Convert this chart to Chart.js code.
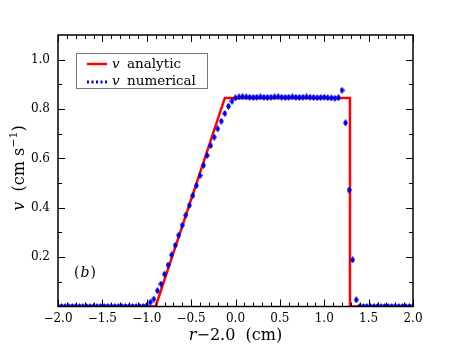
<!DOCTYPE html>
<html><head><meta charset="utf-8">
<script src="https://cdn.jsdelivr.net/npm/chart.js@4"></script>
<style>html,body{margin:0;padding:0;background:#fff}</style>
</head><body>
<canvas id="c" width="460" height="345" style="width:460px;height:345px"></canvas>
<script>
// ---- data ----
const analyticX = [-2.0, -0.9, -0.12, 1.29, 1.29, 2.0];
const analyticY = [0, 0, 0.845, 0.845, 0, 0];

const numericalX = [
 -2.00,-1.96,-1.92,-1.88,-1.84,-1.80,-1.76,-1.72,-1.68,-1.64,
 -1.60,-1.56,-1.52,-1.48,-1.44,-1.40,-1.36,-1.32,-1.28,-1.24,
 -1.20,-1.16,-1.12,-1.08,-1.04,-1.00,-0.96,-0.92,-0.88,-0.84,
 -0.80,-0.76,-0.72,-0.68,-0.64,-0.60,-0.56,-0.52,-0.48,-0.44,
 -0.40,-0.36,-0.32,-0.28,-0.24,-0.20,-0.16,-0.12,-0.08,-0.04,
  0.00, 0.04, 0.08, 0.12, 0.16, 0.20, 0.24, 0.28, 0.32, 0.36,
  0.40, 0.44, 0.48, 0.52, 0.56, 0.60, 0.64, 0.68, 0.72, 0.76,
  0.80, 0.84, 0.88, 0.92, 0.96, 1.00, 1.04, 1.08, 1.12, 1.16,
  1.20, 1.24, 1.28, 1.32, 1.36, 1.40, 1.44, 1.48, 1.52, 1.56,
  1.60, 1.64, 1.68, 1.72, 1.76, 1.80, 1.84, 1.88, 1.92, 1.96,
  2.00];
const numericalY = [
 0,0,0,0,0,0,0,0,0,0,
 0,0,0,0,0,0,0,0,0,0,
 0,0,0,0,0,0.004,0.017,0.030,0.064,0.091,
 0.131,0.168,0.209,0.248,0.289,0.329,0.370,0.410,0.450,0.490,
 0.530,0.572,0.612,0.652,0.686,0.720,0.751,0.782,0.811,0.832,
 0.845,0.849,0.850,0.849,0.848,0.847,0.848,0.849,0.848,0.847,
 0.848,0.849,0.850,0.848,0.847,0.848,0.849,0.848,0.847,0.848,
 0.849,0.848,0.847,0.846,0.847,0.848,0.846,0.845,0.844,0.846,
 0.876,0.744,0.472,0.189,0.027,0,0,0,0,0,
 0,0,0,0,0,0,0,0,0,0,
 0];

const xTickValues = [-2.0,-1.5,-1.0,-0.5,0.0,0.5,1.0,1.5,2.0];
const yTickValues = [0.2,0.4,0.6,0.8,1.0];

const seriesLabels = ['analytic','numerical'];
const panelLabel = 'b';

// ---- marker ----
const marker = document.createElement('canvas');
marker.width = 5; marker.height = 7;
(function(){
  const m = marker.getContext('2d');
  m.fillStyle = '#0000e8';
  m.beginPath(); m.moveTo(2.5,0); m.lineTo(5,3.5); m.lineTo(2.5,7); m.lineTo(0,3.5); m.closePath(); m.fill();
  m.fillRect(1.5,1,2,5);
})();

const SERIF = '"DejaVu Serif", "Liberation Serif", serif';
function fmt(v){ return (v < 0 ? '\u2212' : '') + Math.abs(v).toFixed(1); }

const decor = {
  id: 'decor',
  afterDatasetsDraw(chart){
    const {ctx, chartArea:a, scales:{x, y}} = chart;
    ctx.save();
    // ticks inward
    ctx.strokeStyle = '#000'; ctx.lineWidth = 1;
    ctx.beginPath();
    for (let k = -20; k <= 20; k++) {
      const px = Math.round(x.getPixelForValue(k/10)) + 0.5;
      const len = (k % 5 === 0) ? 7 : 4;
      ctx.moveTo(px, a.bottom); ctx.lineTo(px, a.bottom - len);
      ctx.moveTo(px, a.top); ctx.lineTo(px, a.top + len);
    }
    for (let k = 1; k <= 10; k++) {
      const py = Math.round(y.getPixelForValue(k/10)) + 0.5;
      const len = (k % 2 === 0) ? 7 : 4;
      ctx.moveTo(a.left, py); ctx.lineTo(a.left + len, py);
      ctx.moveTo(a.right, py); ctx.lineTo(a.right - len, py);
    }
    ctx.stroke();
    // frame
    ctx.lineWidth = 1.5;
    ctx.strokeRect(a.left, a.top, a.right - a.left, a.bottom - a.top);

    // legend
    const lx = 76.5, ly = 53.5, lw = 131, lh = 35;
    ctx.fillStyle = '#fff'; ctx.fillRect(lx, ly, lw, lh);
    ctx.strokeStyle = '#777'; ctx.lineWidth = 1; ctx.strokeRect(lx, ly, lw, lh);
    const ds = chart.data.datasets;
    ctx.strokeStyle = ds[0].borderColor; ctx.lineWidth = 2.5;
    ctx.beginPath(); ctx.moveTo(87, 64); ctx.lineTo(107, 64); ctx.stroke();
    ctx.fillStyle = '#0000e8';
    for (let i = 0; i < 5; i++) ctx.fillRect(87 + i*4.5, 80.5, 2, 3);
    ctx.fillStyle = '#000';
    ctx.textBaseline = 'middle'; ctx.textAlign = 'left';
    ctx.font = 'italic 13.5px ' + SERIF;
    ctx.fillText('v', 112, 64); ctx.fillText('v', 112, 81.5);
    ctx.font = '13.5px ' + SERIF;
    ctx.fillText(ds[0].label, 127, 64);
    ctx.fillText(ds[1].label, 127, 81.5);

    // panel label (b)
    ctx.font = '14px ' + SERIF;
    ctx.textAlign = 'left';
    const cx = 74, cy = 273;
    ctx.fillText('(', cx, cy);
    let w = ctx.measureText('(').width;
    ctx.font = 'italic 14px ' + SERIF;
    ctx.fillText(panelLabel, cx + w + 1, cy);
    w += ctx.measureText(panelLabel).width + 2;
    ctx.font = '14px ' + SERIF;
    ctx.fillText(')', cx + w, cy);

    // x title: r−2.0 (cm)
    ctx.textBaseline = 'alphabetic';
    const parts = [['italic 16px ', 'r'], ['16px ', '\u22122.0  (cm)']];
    let tot = 0;
    parts.forEach(p => { ctx.font = p[0] + SERIF; tot += ctx.measureText(p[1]).width; });
    let sx = (a.left + a.right)/2 - tot/2;
    parts.forEach(p => { ctx.font = p[0] + SERIF; ctx.fillText(p[1], sx, 340); sx += ctx.measureText(p[1]).width; });

    // y title: v (cm s^-1)
    ctx.save();
    ctx.translate(24, 168);
    ctx.rotate(-Math.PI/2);
    const yp = [['italic 16px ', 'v', 0], ['16px ', '  (cm s', 0], ['11px ', '\u22121', -7], ['16px ', ')', 0]];
    tot = 0;
    yp.forEach(p => { ctx.font = p[0] + SERIF; tot += ctx.measureText(p[1]).width; });
    sx = -tot/2;
    yp.forEach(p => { ctx.font = p[0] + SERIF; ctx.fillText(p[1], sx, p[2]); sx += ctx.measureText(p[1]).width; });
    ctx.restore();

    ctx.restore();
  }
};

new Chart(document.getElementById('c'), {
  type: 'scatter',
  data: {
    datasets: [
      {
        label: seriesLabels[0],
        data: analyticX.map((v, i) => ({x: v, y: analyticY[i]})),
        showLine: true,
        borderColor: '#ff0000',
        borderWidth: 2.5,
        pointRadius: 0,
        fill: false,
        order: 2
      },
      {
        label: seriesLabels[1],
        data: numericalX.map((v, i) => ({x: v, y: numericalY[i]})),
        showLine: false,
        pointStyle: marker,
        pointRadius: 3,
        backgroundColor: '#0000e8',
        borderColor: '#0000e8',
        clip: 0,
        order: 1
      }
    ]
  },
  options: {
    responsive: false,
    devicePixelRatio: 1,
    animation: false,
    layout: { padding: { left: 0, top: 35, right: 47, bottom: 0 } },
    plugins: { legend: { display: false }, tooltip: { enabled: false } },
    scales: {
      x: {
        type: 'linear', min: -2, max: 2,
        grid: { display: false, drawTicks: false },
        border: { display: false },
        afterBuildTicks: s => { s.ticks = xTickValues.map(v => ({value: v})); },
        afterFit: s => { s.height = 38.5; },
        ticks: { color: '#000', padding: 5, maxRotation: 0, autoSkip: false,
          font: { family: SERIF, size: 12 }, callback: v => fmt(v) }
      },
      y: {
        type: 'linear', min: 0, max: 1.1,
        grid: { display: false, drawTicks: false },
        border: { display: false },
        afterBuildTicks: s => { s.ticks = yTickValues.map(v => ({value: v})); },
        afterFit: s => { s.width = 58; },
        ticks: { color: '#000', padding: 8, autoSkip: false,
          font: { family: SERIF, size: 12 }, callback: v => fmt(v) }
      }
    }
  },
  plugins: [decor]
});
</script>
</body></html>
